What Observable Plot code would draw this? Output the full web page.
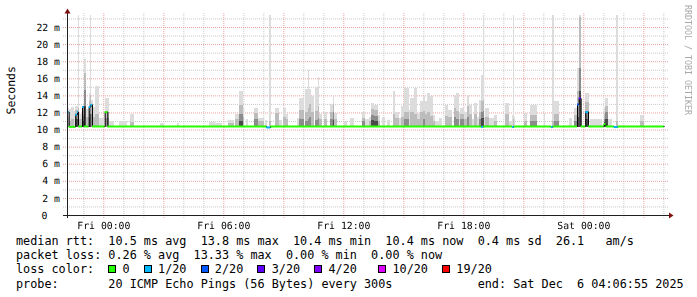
<!DOCTYPE html>
<html><head><meta charset="utf-8">
<script src="https://cdn.jsdelivr.net/npm/d3@7"></script>
<script src="https://cdn.jsdelivr.net/npm/@observablehq/plot@0.6"></script>
<style>
html,body{margin:0;padding:0;background:#fff;}
#wrap{position:relative;width:697px;height:297px;overflow:hidden;}
#chart svg{opacity:0.999;}
#chart svg text{white-space:pre;text-rendering:geometricPrecision;}
.leg{position:absolute;left:16px;top:233.5px;width:675px;margin:0;font:11.8px/14.4px "DejaVu Sans Mono",monospace;color:#000;}
.ln{position:relative;height:14.4px;white-space:pre;}
.ab{position:absolute;top:0;white-space:pre;}
.sq{position:absolute;top:3px;box-sizing:border-box;width:8px;height:8px;border:1px solid #000;}
.credit{position:absolute;left:683px;top:5px;writing-mode:vertical-rl;font:8.3px/9px "DejaVu Sans Mono",monospace;color:#a8a8a8;white-space:pre;}
</style></head>
<body><div id="wrap"><div id="chart"></div><div class="leg" id="legend"></div><div class="credit" id="credit"></div></div>
<script>
// ---- data ----
const startTime = "2025-12-04T22:11:00Z";   // left edge of the graph
const spanMinutes = 1800;                   // 30 hours shown
const yTopMs = 23.64;
const yMajorTicks = [0,2,4,6,8,10,12,14,16,18,20,22];
const yMinorTicks = [1,3,5,7,9,11,13,15,17,19,21,23];
const xLabelTimes = ["2025-12-05T00:00:00Z","2025-12-05T06:00:00Z","2025-12-05T12:00:00Z","2025-12-05T18:00:00Z","2025-12-06T00:00:00Z"];
const lossLabels = ["0","1/20","2/20","3/20","4/20","10/20","19/20"];
const lossColors = ["#26ff00","#00b8ff","#0059ff","#5e00ff","#7e00ff","#dd00ff","#ff0000"];
const smokeShades = ["#dcdcdc","#bcbcbc","#8c8c8c","#4a4a4a"];
const smokeFloorMs = 10.3;
// smoke columns: [startMin, endMin, maxMs, midMs, darkMs, coreMs]
const smoke = [
[0,5,12.5,11.5,0,0],[5,12,12.4,11.0,0,0],[12,22,12.6,11.2,0,0],[22,25,12.2,0,0,0],
[25,32,12.8,12.3,11.8,11.2],[32,35,23.4,12.5,11.5,0],[35,45,11.8,11.2,0,0],
[45,50,12.7,12.2,11.6,11.0],[50,57,18.2,16.6,14.6,12.8],[57,65,12.4,11.5,0,0],
[65,70,14.3,13.3,12.2,11.3],[70,73,23.4,14.0,13.0,11.8],[73,77,13.4,12.8,11.8,0],
[77,85,12.6,11.5,0,0],[85,97,15.1,11.8,0,0],[97,110,11.3,0,0,0],[115,125,13.7,12.0,11.3,0],
[125,140,11.0,0,0,0],[155,180,11.0,0,0,0],[190,200,11.8,10.9,0,0],[280,290,10.8,0,0,0],
[330,335,10.8,0,0,0],[425,445,10.9,0,0,0],[445,465,10.8,0,0,0],[483,500,11.1,10.8,0,0],
[505,515,11.8,11.2,0,0],[515,527,14.5,12.9,11.8,11.0],[527,532,12.6,11.5,0,0],[537,544,11.2,0,0,0],
[561,574,12.5,11.9,11.2,0],[574,590,11.4,11.0,0,0],[595,600,11.1,0,0,0],[606,611,23.4,11.0,0,0],
[625,637,12.5,11.9,0,0],[637,645,11.1,0,0,0],[649,656,12.5,11.5,0,0],[656,663,11.8,11.2,0,0],
[690,697,11.3,0,0,0],[697,710,13.7,12.3,11.2,0],[715,722,14.7,12.0,11.0,0],[722,727,17.0,12.5,11.2,0],
[727,733,14.7,13.0,11.5,0],[733,740,13.9,12.0,0,0],[745,752,15.0,12.2,11.1,0],[752,757,16.2,12.7,11.3,0],
[757,765,11.8,11.2,0,0],[770,780,12.1,11.2,0,0],[788,798,13.0,12.0,11.2,0],[798,802,14.1,13.0,12.0,11.1],
[802,810,11.9,11.2,0,0],[830,840,11.0,0,0,0],[850,860,11.3,0,0,0],[885,895,12.1,11.4,11.0,0],
[895,905,11.2,0,0,0],[905,913,11.5,11.0,0,0],[913,920,13.1,12.4,11.7,11.1],[920,933,12.9,12.3,11.6,11.0],
[933,940,11.7,11.0,0,0],[945,955,11.5,0,0,0],[960,970,11.1,0,0,0],[977,985,14.5,11.8,0,0],
[985,995,12.1,11.3,0,0],[995,1002,11.4,0,0,0],[1002,1010,12.7,11.5,0,0],[1010,1025,14.9,12.0,11.2,0],
[1025,1030,12.3,0,0,0],[1030,1040,13.7,12.0,0,0],[1040,1050,14.9,11.8,0,0],[1050,1060,11.9,11.2,0,0],
[1060,1067,13.3,12.0,0,0],[1067,1075,13.9,12.2,11.2,0],[1075,1080,13.3,11.8,0,0],[1080,1090,14.3,12.0,0,0],
[1090,1097,13.9,11.6,0,0],[1097,1105,11.7,11.0,0,0],[1105,1117,11.0,0,0,0],[1117,1125,11.3,0,0,0],
[1135,1143,12.9,11.6,0,0],[1143,1155,12.3,11.5,0,0],[1160,1167,14.1,12.5,11.5,0],[1167,1175,14.3,12.2,11.2,0],
[1175,1180,12.0,0,0,0],[1180,1190,12.5,11.8,11.2,0],[1190,1200,12.0,11.2,0,0],[1200,1207,14.1,12.7,11.5,0],
[1207,1215,12.9,11.8,0,0],[1215,1220,11.2,0,0,0],[1220,1230,13.1,11.8,0,0],[1230,1237,11.5,0,0,0],
[1237,1243,13.5,12.0,11.2,0],[1243,1247,16.4,13.3,12.1,11.3],[1247,1250,23.4,13.5,12.2,11.4],
[1250,1255,11.5,0,0,0],[1255,1265,12.5,11.5,0,0],[1265,1280,11.3,0,0,0],[1280,1290,11.7,11.0,0,0],
[1315,1325,13.1,11.8,0,0],[1325,1335,11.0,0,0,0],[1335,1338,11.7,0,0,0],[1338,1342,23.4,11.2,0,0],
[1342,1345,11.5,0,0,0],[1370,1380,11.9,11.0,0,0],[1390,1410,12.9,11.7,11.0,0],[1430,1435,11.9,0,0,0],
[1455,1460,23.4,11.0,0,0],[1460,1475,13.3,11.8,11.0,0],[1505,1515,11.3,0,0,0],[1520,1530,12.5,11.7,11.0,0],
[1530,1535,17.2,14.5,12.8,11.5],[1535,1542,23.4,23.2,17.2,14.5],[1553,1565,14.3,13.2,12.2,11.2],
[1570,1605,11.2,0,0,0],[1610,1615,12.5,11.8,11.2,10.9],[1615,1622,13.7,12.8,12.0,11.2],
[1622,1635,11.2,0,0,0],[1648,1653,23.4,11.0,0,0],[1720,1730,11.7,11.0,0,0]
];
// median rtt segments: [startMin, endMin, medianMs, lossColorIndex]
const median = [
[0,5,12.1,1],[5,25,10.38,0],[25,30,11.8,1],[30,33,12.1,1],[33,45,10.42,0],[45,50,12.7,1],
[50,65,10.42,0],[65,70,12.7,1],[70,75,12.95,1],[75,113,10.42,0],[113,121,12.1,0],[121,598,10.42,0],
[598,610,10.3,1],[610,1243,10.42,0],[1243,1248,10.35,1],[1248,1335,10.42,0],[1335,1340,10.35,1],
[1340,1452,10.42,0],[1452,1457,10.35,1],[1457,1530,10.42,0],[1530,1535,13.0,2],[1535,1541,13.7,3],
[1541,1555,10.42,0],[1555,1563,12.1,1],[1563,1610,10.42,0],[1610,1616,10.7,0],[1616,1640,10.42,0],
[1640,1652,10.35,1],[1652,1790,10.42,0]
];
const rttStats = ["10.5 ms avg","13.8 ms max","10.4 ms min","10.4 ms now","0.4 ms sd","26.1   am/s"];
const lossStats = ["0.26 % avg","13.33 % max","0.00 % min","0.00 % now"];
const probeText = "20 ICMP Echo Pings (56 Bytes) every 300s";
const endText = "end: Sat Dec  6 04:06:55 2025";
const yTitle = "Seconds";
const creditText = "RRDTOOL / TOBI OETIKER";

// ---- build ----
const t0 = new Date(startTime).getTime();
const T = m => new Date(t0 + m * 60000);
const mono = "DejaVu Sans Mono";
const hourly = d3.utcHour.range(T(0), T(spanMinutes + 1));
const minorHours = hourly.filter(d => d.getUTCHours() % 3 !== 0);
const majorHours = hourly.filter(d => d.getUTCHours() % 3 === 0);

const smokeLayers = [];
smoke.forEach(s => { for (let k = 0; k < 4; k++) if (s[2 + k] > 0) smokeLayers.push({a: T(s[0]), b: T(s[1]), v: s[2 + k], k}); });
const medPts = [];
median.forEach(m => { medPts.push({t: T(m[0]), v: m[2]}); medPts.push({t: T(m[1]), v: m[2]}); });

const frame = (index, scales, values, dims) => {
  const g = d3.create("svg:g");
  const x0 = scales.x(T(0)), xe = scales.x(T(spanMinutes)), y0 = scales.y(0), yt = dims.marginTop;
  g.append("line").attr("x1", x0 - 4).attr("x2", xe + 2).attr("y1", y0 + 0.5).attr("y2", y0 + 0.5).attr("stroke", "#202020");
  g.append("line").attr("x1", x0 + 0.5).attr("x2", x0 + 0.5).attr("y1", y0 + 3).attr("y2", yt).attr("stroke", "#202020");
  g.append("path").attr("d", `M${x0 + 0.5},${yt - 4.5}L${x0 - 2.5},${yt + 0.5}L${x0 + 3.5},${yt + 0.5}Z`).attr("fill", "#801010");
  g.append("path").attr("d", `M${xe + 6.5},${y0 + 0.5}L${xe + 2},${y0 - 2.5}L${xe + 2},${y0 + 3.5}Z`).attr("fill", "#801010");
  return g.node();
};

const labelStyle = {fontFamily: mono, fontSize: 9.8, fill: "#000", lineAnchor: "middle"};
const chart = Plot.plot({
  width: 697, height: 232,
  marginLeft: 67, marginRight: 30, marginTop: 13, marginBottom: 17,
  x: {type: "utc", domain: [T(0), T(spanMinutes)], axis: null},
  y: {domain: [0, yTopMs], axis: null},
  style: {background: "#fff", overflow: "visible"},
  marks: [
    Plot.ruleY(yMinorTicks, {y: d => d, x1: T(-12), x2: T(spanMinutes + 3), stroke: "#c8c8c8", strokeDasharray: "1,1"}),
    Plot.ruleX(minorHours, {x: d => d, y1: -0.35, y2: yTopMs, stroke: "#c8c8c8", strokeDasharray: "1,1"}),
    Plot.ruleY(yMajorTicks.slice(1), {y: d => d, x1: T(-12), x2: T(spanMinutes + 3), stroke: "#eaa0a0", strokeDasharray: "1,1"}),
    Plot.ruleX(majorHours, {x: d => d, y1: -0.35, y2: yTopMs, stroke: "#eaa0a0", strokeDasharray: "1,1"}),
    Plot.rectY(smokeLayers, {x1: "a", x2: "b", y1: smokeFloorMs, y2: "v", fill: d => smokeShades[d.k], inset: 0, shapeRendering: "crispEdges"}),
    Plot.line(medPts, {x: "t", y: "v", stroke: "#000", strokeWidth: 1}),
    Plot.ruleY(median, {y: d => d[2], x1: d => T(d[0]), x2: d => T(d[1]), stroke: d => lossColors[d[3]], strokeWidth: 2}),
    frame,
    Plot.text(yMajorTicks.slice(1), {x: () => T(0), y: d => d, text: d => d + " m", textAnchor: "end", dx: -7.5, ...labelStyle}),
    Plot.text([0], {x: () => T(0), y: d => d, text: d => String(d), textAnchor: "end", dx: -20, ...labelStyle}),
    Plot.text(xLabelTimes, {x: d => new Date(d), y: () => 0, text: d => d3.utcFormat("%a %H:%M")(new Date(d)), dy: 10, ...labelStyle}),
    Plot.text([yTitle], {frameAnchor: "left", dx: -56, rotate: -90, text: d => d, fontFamily: mono, fontSize: 11.5, fill: "#000"})
  ]
});
document.getElementById("chart").append(chart);

// legend
const leg = document.getElementById("legend");
const addLine = () => { const d = document.createElement("div"); d.className = "ln"; leg.append(d); return d; };
const addAt = (line, col, text, cls) => { const s = document.createElement("span"); s.className = cls || "ab"; s.style.left = `calc(${col}ch)`; if (text) s.textContent = text; line.append(s); return s; };
addAt(addLine(), 0, "median rtt:  " + rttStats.join("  "));
addAt(addLine(), 0, "packet loss: " + lossStats.join("  "));
const l3 = addLine();
addAt(l3, 0, "loss color:");
const gaps = [2, 2, 2, 2, 3, 2, 0];
let col = 13;
lossLabels.forEach((lab, i) => {
  const sq = addAt(l3, col, "", "sq"); sq.style.background = lossColors[i];
  addAt(l3, col + 2, lab);
  col += 2 + lab.length + gaps[i];
});
const l4 = addLine();
addAt(l4, 0, "probe:");
addAt(l4, 13, probeText);
addAt(l4, 65, endText);
document.getElementById("credit").textContent = creditText;
</script>
</body></html>
